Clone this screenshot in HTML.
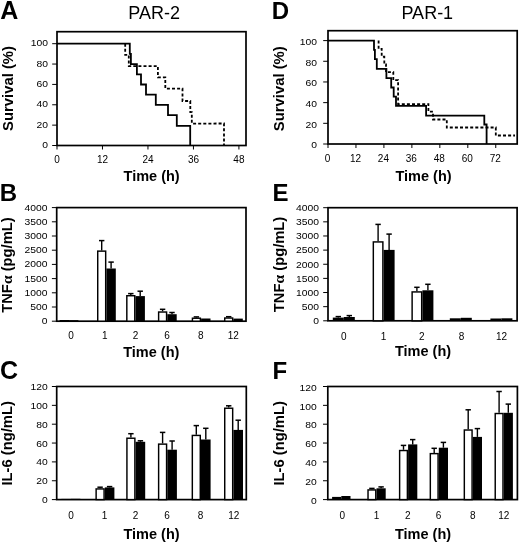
<!DOCTYPE html>
<html><head><meta charset="utf-8"><style>
html,body{margin:0;padding:0;background:#fff;width:520px;height:545px;overflow:hidden}
svg{display:block;will-change:transform}
text{font-family:"Liberation Sans", sans-serif;fill:#000}
</style></head><body>
<svg width="520" height="545" viewBox="0 0 520 545">
<rect width="520" height="545" fill="#fff"/>
<text x="0.3" y="18.7" font-size="25" text-anchor="start" font-weight="bold" >A</text>
<text x="271.8" y="18.8" font-size="24" text-anchor="start" font-weight="bold" >D</text>
<text x="-0.2" y="200.9" font-size="24" text-anchor="start" font-weight="bold" >B</text>
<text x="272.5" y="201.1" font-size="24" text-anchor="start" font-weight="bold" >E</text>
<text x="0.0" y="378.6" font-size="25" text-anchor="start" font-weight="bold" >C</text>
<text x="272.5" y="378.8" font-size="24" text-anchor="start" font-weight="bold" >F</text>
<text x="154.2" y="18.6" font-size="18" text-anchor="middle" font-weight="normal" >PAR-2</text>
<text x="427.3" y="18.6" font-size="18" text-anchor="middle" font-weight="normal" >PAR-1</text>
<rect x="57" y="31.7" width="189" height="113.8" fill="none" stroke="#000" stroke-width="1.7"/>
<line x1="52.2" y1="145.5" x2="57" y2="145.5" stroke="#000" stroke-width="1.0"/>
<text transform="translate(47.9,148.10) scale(1.15,1)" font-size="9.0" text-anchor="end">0</text>
<line x1="52.2" y1="125.14" x2="57" y2="125.14" stroke="#000" stroke-width="1.0"/>
<text transform="translate(47.9,127.74) scale(1.15,1)" font-size="9.0" text-anchor="end">20</text>
<line x1="52.2" y1="104.78" x2="57" y2="104.78" stroke="#000" stroke-width="1.0"/>
<text transform="translate(47.9,107.38) scale(1.15,1)" font-size="9.0" text-anchor="end">40</text>
<line x1="52.2" y1="84.42" x2="57" y2="84.42" stroke="#000" stroke-width="1.0"/>
<text transform="translate(47.9,87.02) scale(1.15,1)" font-size="9.0" text-anchor="end">60</text>
<line x1="52.2" y1="64.06" x2="57" y2="64.06" stroke="#000" stroke-width="1.0"/>
<text transform="translate(47.9,66.66) scale(1.15,1)" font-size="9.0" text-anchor="end">80</text>
<line x1="52.2" y1="43.7" x2="57" y2="43.7" stroke="#000" stroke-width="1.0"/>
<text transform="translate(47.9,46.30) scale(1.15,1)" font-size="9.0" text-anchor="end">100</text>
<line x1="57.0" y1="145.5" x2="57.0" y2="149.5" stroke="#000" stroke-width="1.0"/>
<text x="57.0" y="163.2" font-size="10" text-anchor="middle" font-weight="normal" >0</text>
<line x1="102.48" y1="145.5" x2="102.48" y2="149.5" stroke="#000" stroke-width="1.0"/>
<text x="102.48" y="163.2" font-size="10" text-anchor="middle" font-weight="normal" >12</text>
<line x1="147.96" y1="145.5" x2="147.96" y2="149.5" stroke="#000" stroke-width="1.0"/>
<text x="147.96" y="163.2" font-size="10" text-anchor="middle" font-weight="normal" >24</text>
<line x1="193.44" y1="145.5" x2="193.44" y2="149.5" stroke="#000" stroke-width="1.0"/>
<text x="193.44" y="163.2" font-size="10" text-anchor="middle" font-weight="normal" >36</text>
<line x1="238.92000000000002" y1="145.5" x2="238.92000000000002" y2="149.5" stroke="#000" stroke-width="1.0"/>
<text x="238.92000000000002" y="163.2" font-size="10" text-anchor="middle" font-weight="normal" >48</text>
<polyline points="57,43.7 129.8,43.7 129.8,53.9 130.9,53.9 130.9,64.1 136.9,64.1 136.9,74.3 141,74.3 141,84.5 146,84.5 146,94.6 155.8,94.6 155.8,104.8 168,104.8 168,115 176.8,115.1 176.8,125.9 190.2,125.9 190.2,145.5" fill="none" stroke="#000" stroke-width="1.8" stroke-linejoin="miter" stroke-linecap="butt"/>
<polyline points="125.2,43.7 125.2,54.9 128.8,54.9 128.8,66.2 157.9,66.1 157.9,77.3 165.3,77.3 165.3,88.6 182.5,88.6 182.5,101.0 190.3,101.0 190.3,112.2 191.8,112.2 191.8,123.6 224,123.5 224,145.5" fill="none" stroke="#000" stroke-width="1.8" stroke-dasharray="3 2.1" stroke-linejoin="miter" stroke-linecap="butt"/>
<text transform="translate(13.0,88.5) rotate(-90)" font-size="14.85" text-anchor="middle" font-weight="bold">Survival (%)</text>
<text x="151.6" y="180.8" font-size="14.5" text-anchor="middle" font-weight="bold" >Time (h)</text>
<rect x="328" y="30.7" width="189.20000000000005" height="113.3" fill="none" stroke="#000" stroke-width="1.7"/>
<line x1="323.2" y1="144.0" x2="328" y2="144.0" stroke="#000" stroke-width="1.0"/>
<text transform="translate(317.0,148.25) scale(1.15,1)" font-size="9.0" text-anchor="end">0</text>
<line x1="323.2" y1="123.32" x2="328" y2="123.32" stroke="#000" stroke-width="1.0"/>
<text transform="translate(317.0,127.57) scale(1.15,1)" font-size="9.0" text-anchor="end">20</text>
<line x1="323.2" y1="102.64" x2="328" y2="102.64" stroke="#000" stroke-width="1.0"/>
<text transform="translate(317.0,106.89) scale(1.15,1)" font-size="9.0" text-anchor="end">40</text>
<line x1="323.2" y1="81.96000000000001" x2="328" y2="81.96000000000001" stroke="#000" stroke-width="1.0"/>
<text transform="translate(317.0,86.21) scale(1.15,1)" font-size="9.0" text-anchor="end">60</text>
<line x1="323.2" y1="61.28" x2="328" y2="61.28" stroke="#000" stroke-width="1.0"/>
<text transform="translate(317.0,65.53) scale(1.15,1)" font-size="9.0" text-anchor="end">80</text>
<line x1="323.2" y1="40.599999999999994" x2="328" y2="40.599999999999994" stroke="#000" stroke-width="1.0"/>
<text transform="translate(317.0,44.85) scale(1.15,1)" font-size="9.0" text-anchor="end">100</text>
<line x1="328.0" y1="144" x2="328.0" y2="148" stroke="#000" stroke-width="1.0"/>
<text x="327.5" y="162.3" font-size="10" text-anchor="middle" font-weight="normal" >0</text>
<line x1="355.96" y1="144" x2="355.96" y2="148" stroke="#000" stroke-width="1.0"/>
<text x="355.46" y="162.3" font-size="10" text-anchor="middle" font-weight="normal" >12</text>
<line x1="383.92" y1="144" x2="383.92" y2="148" stroke="#000" stroke-width="1.0"/>
<text x="383.42" y="162.3" font-size="10" text-anchor="middle" font-weight="normal" >24</text>
<line x1="411.88" y1="144" x2="411.88" y2="148" stroke="#000" stroke-width="1.0"/>
<text x="411.38" y="162.3" font-size="10" text-anchor="middle" font-weight="normal" >36</text>
<line x1="439.84000000000003" y1="144" x2="439.84000000000003" y2="148" stroke="#000" stroke-width="1.0"/>
<text x="439.34000000000003" y="162.3" font-size="10" text-anchor="middle" font-weight="normal" >48</text>
<line x1="467.8" y1="144" x2="467.8" y2="148" stroke="#000" stroke-width="1.0"/>
<text x="467.3" y="162.3" font-size="10" text-anchor="middle" font-weight="normal" >60</text>
<line x1="495.76" y1="144" x2="495.76" y2="148" stroke="#000" stroke-width="1.0"/>
<text x="495.26" y="162.3" font-size="10" text-anchor="middle" font-weight="normal" >72</text>
<polyline points="328,40.6 374,40.6 374,49.8 374.9,49.8 374.9,59.1 376.8,59.1 376.8,68.8 386.4,68.8 386.4,78.1 391.2,78.1 391.2,87.5 393.7,87.5 393.7,96.7 396,96.7 396,105.9 426.1,105.9 426.1,115.6 484.3,115.6 484.3,124.5 486.6,124.5 486.6,144" fill="none" stroke="#000" stroke-width="1.8" stroke-linejoin="miter" stroke-linecap="butt"/>
<polyline points="378.6,40.6 378.6,48.8 381.7,48.8 381.7,56.7 384.3,56.7 384.3,64.4 386,64.4 386,72.1 393.3,72.1 393.3,80.1 398.1,80.1 398.1,104.1 428.4,104.1 428.4,111.7 433,111.7 433,119.5 446.8,119.5 446.8,127.5 495.8,127.5 495.8,135.5 515,135.5" fill="none" stroke="#000" stroke-width="1.8" stroke-dasharray="3 2.1" stroke-linejoin="miter" stroke-linecap="butt"/>
<text transform="translate(284.4,88.75) rotate(-90)" font-size="14.85" text-anchor="middle" font-weight="bold">Survival (%)</text>
<text x="423.5" y="181" font-size="14.5" text-anchor="middle" font-weight="bold" >Time (h)</text>
<rect x="56.7" y="207.6" width="189.3" height="113.6" fill="none" stroke="#000" stroke-width="1.7"/>
<line x1="51.900000000000006" y1="321.2" x2="56.7" y2="321.2" stroke="#000" stroke-width="1.0"/>
<text transform="translate(47.6,324.20) scale(1.15,1)" font-size="9.0" text-anchor="end">0</text>
<line x1="51.900000000000006" y1="307.0" x2="56.7" y2="307.0" stroke="#000" stroke-width="1.0"/>
<text transform="translate(47.6,310.00) scale(1.15,1)" font-size="9.0" text-anchor="end">500</text>
<line x1="51.900000000000006" y1="292.8" x2="56.7" y2="292.8" stroke="#000" stroke-width="1.0"/>
<text transform="translate(47.6,295.80) scale(1.15,1)" font-size="9.0" text-anchor="end">1000</text>
<line x1="51.900000000000006" y1="278.59999999999997" x2="56.7" y2="278.59999999999997" stroke="#000" stroke-width="1.0"/>
<text transform="translate(47.6,281.60) scale(1.15,1)" font-size="9.0" text-anchor="end">1500</text>
<line x1="51.900000000000006" y1="264.4" x2="56.7" y2="264.4" stroke="#000" stroke-width="1.0"/>
<text transform="translate(47.6,267.40) scale(1.15,1)" font-size="9.0" text-anchor="end">2000</text>
<line x1="51.900000000000006" y1="250.2" x2="56.7" y2="250.2" stroke="#000" stroke-width="1.0"/>
<text transform="translate(47.6,253.20) scale(1.15,1)" font-size="9.0" text-anchor="end">2500</text>
<line x1="51.900000000000006" y1="236.0" x2="56.7" y2="236.0" stroke="#000" stroke-width="1.0"/>
<text transform="translate(47.6,239.00) scale(1.15,1)" font-size="9.0" text-anchor="end">3000</text>
<line x1="51.900000000000006" y1="221.79999999999998" x2="56.7" y2="221.79999999999998" stroke="#000" stroke-width="1.0"/>
<text transform="translate(47.6,224.80) scale(1.15,1)" font-size="9.0" text-anchor="end">3500</text>
<line x1="51.900000000000006" y1="207.6" x2="56.7" y2="207.6" stroke="#000" stroke-width="1.0"/>
<text transform="translate(47.6,210.60) scale(1.15,1)" font-size="9.0" text-anchor="end">4000</text>
<rect x="59.6" y="320.0" width="9.399999999999999" height="1.1999999999999886" fill="#000"/>
<rect x="69" y="320.2" width="9.400000000000006" height="1.0" fill="#000"/>
<line x1="101.7" y1="240.6" x2="101.7" y2="250.4" stroke="#000" stroke-width="1.4"/>
<line x1="99.0" y1="240.6" x2="104.4" y2="240.6" stroke="#000" stroke-width="1.5"/>
<rect x="97.725" y="251.125" width="7.9500000000000055" height="70.07499999999999" fill="#fff" stroke="#000" stroke-width="1.45"/>
<line x1="111.10000000000001" y1="262.1" x2="111.10000000000001" y2="268.5" stroke="#000" stroke-width="1.4"/>
<line x1="108.4" y1="262.1" x2="113.80000000000001" y2="262.1" stroke="#000" stroke-width="1.5"/>
<rect x="106.4" y="268.5" width="9.400000000000006" height="52.69999999999999" fill="#000"/>
<line x1="130.8" y1="293.6" x2="130.8" y2="295.0" stroke="#000" stroke-width="1.4"/>
<line x1="128.10000000000002" y1="293.6" x2="133.5" y2="293.6" stroke="#000" stroke-width="1.5"/>
<rect x="126.82499999999999" y="295.725" width="7.9500000000000055" height="25.474999999999987" fill="#fff" stroke="#000" stroke-width="1.45"/>
<line x1="140.2" y1="291.2" x2="140.2" y2="296.1" stroke="#000" stroke-width="1.4"/>
<line x1="137.5" y1="291.2" x2="142.89999999999998" y2="291.2" stroke="#000" stroke-width="1.5"/>
<rect x="135.5" y="296.1" width="9.400000000000006" height="25.099999999999966" fill="#000"/>
<line x1="162.60000000000002" y1="309.3" x2="162.60000000000002" y2="311.3" stroke="#000" stroke-width="1.4"/>
<line x1="159.90000000000003" y1="309.3" x2="165.3" y2="309.3" stroke="#000" stroke-width="1.5"/>
<rect x="158.625" y="312.02500000000003" width="7.9500000000000055" height="9.174999999999978" fill="#fff" stroke="#000" stroke-width="1.45"/>
<line x1="172.0" y1="312.5" x2="172.0" y2="314.2" stroke="#000" stroke-width="1.4"/>
<line x1="169.3" y1="312.5" x2="174.7" y2="312.5" stroke="#000" stroke-width="1.5"/>
<rect x="167.3" y="314.2" width="9.400000000000006" height="7.0" fill="#000"/>
<line x1="196.39999999999998" y1="316.9" x2="196.39999999999998" y2="317.5" stroke="#000" stroke-width="1.4"/>
<line x1="193.7" y1="316.9" x2="199.09999999999997" y2="316.9" stroke="#000" stroke-width="1.5"/>
<rect x="192.42499999999998" y="318.225" width="7.9500000000000055" height="2.9749999999999885" fill="#fff" stroke="#000" stroke-width="1.45"/>
<rect x="201.1" y="318.5" width="9.400000000000006" height="2.6999999999999886" fill="#000"/>
<line x1="228.7" y1="316.7" x2="228.7" y2="317.3" stroke="#000" stroke-width="1.4"/>
<line x1="226.0" y1="316.7" x2="231.39999999999998" y2="316.7" stroke="#000" stroke-width="1.5"/>
<rect x="224.725" y="318.02500000000003" width="7.9500000000000055" height="3.174999999999977" fill="#fff" stroke="#000" stroke-width="1.45"/>
<rect x="233.4" y="318.6" width="9.400000000000006" height="2.599999999999966" fill="#000"/>
<text x="71" y="338.6" font-size="10" text-anchor="middle" font-weight="normal" >0</text>
<text x="104.8" y="338.6" font-size="10" text-anchor="middle" font-weight="normal" >1</text>
<text x="135.5" y="338.6" font-size="10" text-anchor="middle" font-weight="normal" >2</text>
<text x="167" y="338.6" font-size="10" text-anchor="middle" font-weight="normal" >6</text>
<text x="200.7" y="338.6" font-size="10" text-anchor="middle" font-weight="normal" >8</text>
<text x="233.2" y="338.6" font-size="10" text-anchor="middle" font-weight="normal" >12</text>
<text transform="translate(11.9,265.1) rotate(-90)" font-size="14.7" text-anchor="middle" font-weight="bold">TNF<tspan font-family="Liberation Serif" font-size="15.5" dx="0.2">α</tspan> (pg/mL)</text>
<text x="151.3" y="357.3" font-size="14.5" text-anchor="middle" font-weight="bold" >Time (h)</text>
<rect x="328" y="207.7" width="189.10000000000002" height="113.10000000000002" fill="none" stroke="#000" stroke-width="1.7"/>
<line x1="323.2" y1="320.8" x2="328" y2="320.8" stroke="#000" stroke-width="1.0"/>
<text transform="translate(319.1,324.15) scale(1.15,1)" font-size="9.0" text-anchor="end">0</text>
<line x1="323.2" y1="306.6625" x2="328" y2="306.6625" stroke="#000" stroke-width="1.0"/>
<text transform="translate(319.1,310.01) scale(1.15,1)" font-size="9.0" text-anchor="end">500</text>
<line x1="323.2" y1="292.525" x2="328" y2="292.525" stroke="#000" stroke-width="1.0"/>
<text transform="translate(319.1,295.88) scale(1.15,1)" font-size="9.0" text-anchor="end">1000</text>
<line x1="323.2" y1="278.3875" x2="328" y2="278.3875" stroke="#000" stroke-width="1.0"/>
<text transform="translate(319.1,281.74) scale(1.15,1)" font-size="9.0" text-anchor="end">1500</text>
<line x1="323.2" y1="264.25" x2="328" y2="264.25" stroke="#000" stroke-width="1.0"/>
<text transform="translate(319.1,267.60) scale(1.15,1)" font-size="9.0" text-anchor="end">2000</text>
<line x1="323.2" y1="250.1125" x2="328" y2="250.1125" stroke="#000" stroke-width="1.0"/>
<text transform="translate(319.1,253.46) scale(1.15,1)" font-size="9.0" text-anchor="end">2500</text>
<line x1="323.2" y1="235.975" x2="328" y2="235.975" stroke="#000" stroke-width="1.0"/>
<text transform="translate(319.1,239.32) scale(1.15,1)" font-size="9.0" text-anchor="end">3000</text>
<line x1="323.2" y1="221.83749999999998" x2="328" y2="221.83749999999998" stroke="#000" stroke-width="1.0"/>
<text transform="translate(319.1,225.19) scale(1.15,1)" font-size="9.0" text-anchor="end">3500</text>
<line x1="323.2" y1="207.7" x2="328" y2="207.7" stroke="#000" stroke-width="1.0"/>
<text transform="translate(319.1,211.05) scale(1.15,1)" font-size="9.0" text-anchor="end">4000</text>
<line x1="338.3" y1="316.6" x2="338.3" y2="317.6" stroke="#000" stroke-width="1.4"/>
<line x1="335.6" y1="316.6" x2="341.0" y2="316.6" stroke="#000" stroke-width="1.5"/>
<rect x="332.8" y="317.6" width="11.0" height="3.1999999999999886" fill="#000"/>
<line x1="349.3" y1="315.6" x2="349.3" y2="317.0" stroke="#000" stroke-width="1.4"/>
<line x1="346.6" y1="315.6" x2="352.0" y2="315.6" stroke="#000" stroke-width="1.5"/>
<rect x="343.8" y="317.0" width="11.0" height="3.8000000000000114" fill="#000"/>
<line x1="378.1" y1="224.4" x2="378.1" y2="241.2" stroke="#000" stroke-width="1.4"/>
<line x1="375.40000000000003" y1="224.4" x2="380.8" y2="224.4" stroke="#000" stroke-width="1.5"/>
<rect x="373.32500000000005" y="241.92499999999998" width="9.55" height="78.87500000000003" fill="#fff" stroke="#000" stroke-width="1.45"/>
<line x1="389.1" y1="234.1" x2="389.1" y2="249.9" stroke="#000" stroke-width="1.4"/>
<line x1="386.40000000000003" y1="234.1" x2="391.8" y2="234.1" stroke="#000" stroke-width="1.5"/>
<rect x="383.6" y="249.9" width="11.0" height="70.9" fill="#000"/>
<line x1="416.9" y1="287.3" x2="416.9" y2="291.2" stroke="#000" stroke-width="1.4"/>
<line x1="414.2" y1="287.3" x2="419.59999999999997" y2="287.3" stroke="#000" stroke-width="1.5"/>
<rect x="412.125" y="291.925" width="9.55" height="28.87500000000002" fill="#fff" stroke="#000" stroke-width="1.45"/>
<line x1="427.9" y1="284.3" x2="427.9" y2="290.3" stroke="#000" stroke-width="1.4"/>
<line x1="425.2" y1="284.3" x2="430.59999999999997" y2="284.3" stroke="#000" stroke-width="1.5"/>
<rect x="422.4" y="290.3" width="11.0" height="30.5" fill="#000"/>
<rect x="449.8" y="318.3" width="11.0" height="2.5" fill="#000"/>
<rect x="460.8" y="317.8" width="11.0" height="3.0" fill="#000"/>
<rect x="490.4" y="318.5" width="11.0" height="2.3000000000000114" fill="#000"/>
<rect x="501.4" y="318.3" width="11.0" height="2.5" fill="#000"/>
<text x="343.8" y="339.8" font-size="10" text-anchor="middle" font-weight="normal" >0</text>
<text x="383.5" y="339.8" font-size="10" text-anchor="middle" font-weight="normal" >1</text>
<text x="421.9" y="339.8" font-size="10" text-anchor="middle" font-weight="normal" >2</text>
<text x="461.5" y="339.8" font-size="10" text-anchor="middle" font-weight="normal" >8</text>
<text x="501.5" y="339.8" font-size="10" text-anchor="middle" font-weight="normal" >12</text>
<text transform="translate(284.1,264.5) rotate(-90)" font-size="14.7" text-anchor="middle" font-weight="bold">TNF<tspan font-family="Liberation Serif" font-size="15.5" dx="0.2">α</tspan> (pg/mL)</text>
<text x="423" y="356.3" font-size="14.5" text-anchor="middle" font-weight="bold" >Time (h)</text>
<rect x="56.7" y="386.5" width="189.60000000000002" height="113.10000000000002" fill="none" stroke="#000" stroke-width="1.7"/>
<line x1="51.900000000000006" y1="499.6" x2="56.7" y2="499.6" stroke="#000" stroke-width="1.0"/>
<text transform="translate(47.7,503.05) scale(1.15,1)" font-size="9.0" text-anchor="end">0</text>
<line x1="51.900000000000006" y1="480.75" x2="56.7" y2="480.75" stroke="#000" stroke-width="1.0"/>
<text transform="translate(47.7,484.20) scale(1.15,1)" font-size="9.0" text-anchor="end">20</text>
<line x1="51.900000000000006" y1="461.90000000000003" x2="56.7" y2="461.90000000000003" stroke="#000" stroke-width="1.0"/>
<text transform="translate(47.7,465.35) scale(1.15,1)" font-size="9.0" text-anchor="end">40</text>
<line x1="51.900000000000006" y1="443.05" x2="56.7" y2="443.05" stroke="#000" stroke-width="1.0"/>
<text transform="translate(47.7,446.50) scale(1.15,1)" font-size="9.0" text-anchor="end">60</text>
<line x1="51.900000000000006" y1="424.2" x2="56.7" y2="424.2" stroke="#000" stroke-width="1.0"/>
<text transform="translate(47.7,427.65) scale(1.15,1)" font-size="9.0" text-anchor="end">80</text>
<line x1="51.900000000000006" y1="405.35" x2="56.7" y2="405.35" stroke="#000" stroke-width="1.0"/>
<text transform="translate(47.7,408.80) scale(1.15,1)" font-size="9.0" text-anchor="end">100</text>
<line x1="51.900000000000006" y1="386.5" x2="56.7" y2="386.5" stroke="#000" stroke-width="1.0"/>
<text transform="translate(47.7,389.95) scale(1.15,1)" font-size="9.0" text-anchor="end">120</text>
<rect x="61.4" y="498.9" width="9.399999999999999" height="0.7000000000000455" fill="#000"/>
<rect x="70.8" y="498.8" width="9.599999999999994" height="0.8000000000000114" fill="#000"/>
<line x1="100.1" y1="487.2" x2="100.1" y2="488.2" stroke="#000" stroke-width="1.4"/>
<line x1="97.39999999999999" y1="487.2" x2="102.8" y2="487.2" stroke="#000" stroke-width="1.5"/>
<rect x="96.12499999999999" y="488.925" width="7.9500000000000055" height="10.675000000000034" fill="#fff" stroke="#000" stroke-width="1.45"/>
<line x1="109.6" y1="486.6" x2="109.6" y2="487.4" stroke="#000" stroke-width="1.4"/>
<line x1="106.89999999999999" y1="486.6" x2="112.3" y2="486.6" stroke="#000" stroke-width="1.5"/>
<rect x="104.8" y="487.4" width="9.599999999999994" height="12.200000000000045" fill="#000"/>
<line x1="130.89999999999998" y1="433.7" x2="130.89999999999998" y2="437.5" stroke="#000" stroke-width="1.4"/>
<line x1="128.2" y1="433.7" x2="133.59999999999997" y2="433.7" stroke="#000" stroke-width="1.5"/>
<rect x="126.92499999999998" y="438.225" width="7.9500000000000055" height="61.37500000000002" fill="#fff" stroke="#000" stroke-width="1.45"/>
<line x1="140.39999999999998" y1="440.8" x2="140.39999999999998" y2="441.8" stroke="#000" stroke-width="1.4"/>
<line x1="137.7" y1="440.8" x2="143.09999999999997" y2="440.8" stroke="#000" stroke-width="1.5"/>
<rect x="135.6" y="441.8" width="9.599999999999994" height="57.80000000000001" fill="#000"/>
<line x1="162.60000000000002" y1="432.4" x2="162.60000000000002" y2="443.4" stroke="#000" stroke-width="1.4"/>
<line x1="159.90000000000003" y1="432.4" x2="165.3" y2="432.4" stroke="#000" stroke-width="1.5"/>
<rect x="158.625" y="444.125" width="7.9500000000000055" height="55.475000000000044" fill="#fff" stroke="#000" stroke-width="1.45"/>
<line x1="172.10000000000002" y1="441.0" x2="172.10000000000002" y2="449.7" stroke="#000" stroke-width="1.4"/>
<line x1="169.40000000000003" y1="441.0" x2="174.8" y2="441.0" stroke="#000" stroke-width="1.5"/>
<rect x="167.3" y="449.7" width="9.599999999999994" height="49.900000000000034" fill="#000"/>
<line x1="196.3" y1="425.6" x2="196.3" y2="434.7" stroke="#000" stroke-width="1.4"/>
<line x1="193.60000000000002" y1="425.6" x2="199.0" y2="425.6" stroke="#000" stroke-width="1.5"/>
<rect x="192.325" y="435.425" width="7.9500000000000055" height="64.17500000000004" fill="#fff" stroke="#000" stroke-width="1.45"/>
<line x1="205.8" y1="428.3" x2="205.8" y2="439.5" stroke="#000" stroke-width="1.4"/>
<line x1="203.10000000000002" y1="428.3" x2="208.5" y2="428.3" stroke="#000" stroke-width="1.5"/>
<rect x="201.0" y="439.5" width="9.599999999999994" height="60.10000000000002" fill="#000"/>
<line x1="228.7" y1="405.8" x2="228.7" y2="407.5" stroke="#000" stroke-width="1.4"/>
<line x1="226.0" y1="405.8" x2="231.39999999999998" y2="405.8" stroke="#000" stroke-width="1.5"/>
<rect x="224.725" y="408.225" width="7.9500000000000055" height="91.37500000000003" fill="#fff" stroke="#000" stroke-width="1.45"/>
<line x1="238.2" y1="420.2" x2="238.2" y2="429.9" stroke="#000" stroke-width="1.4"/>
<line x1="235.5" y1="420.2" x2="240.89999999999998" y2="420.2" stroke="#000" stroke-width="1.5"/>
<rect x="233.4" y="429.9" width="9.599999999999994" height="69.70000000000005" fill="#000"/>
<text x="71" y="518.9" font-size="10" text-anchor="middle" font-weight="normal" >0</text>
<text x="104.5" y="518.9" font-size="10" text-anchor="middle" font-weight="normal" >1</text>
<text x="135.6" y="518.9" font-size="10" text-anchor="middle" font-weight="normal" >2</text>
<text x="167.1" y="518.9" font-size="10" text-anchor="middle" font-weight="normal" >6</text>
<text x="200.6" y="518.9" font-size="10" text-anchor="middle" font-weight="normal" >8</text>
<text x="233.8" y="518.9" font-size="10" text-anchor="middle" font-weight="normal" >12</text>
<text transform="translate(11.9,443.35) rotate(-90)" font-size="14.75" text-anchor="middle" font-weight="bold">IL-6 (ng/mL)</text>
<text x="151.5" y="539.0" font-size="14.5" text-anchor="middle" font-weight="bold" >Time (h)</text>
<rect x="327.8" y="386.5" width="189.59999999999997" height="113.10000000000002" fill="none" stroke="#000" stroke-width="1.7"/>
<line x1="323.0" y1="499.6" x2="327.8" y2="499.6" stroke="#000" stroke-width="1.0"/>
<text transform="translate(316.8,503.80) scale(1.15,1)" font-size="9.0" text-anchor="end">0</text>
<line x1="323.0" y1="480.75" x2="327.8" y2="480.75" stroke="#000" stroke-width="1.0"/>
<text transform="translate(316.8,484.95) scale(1.15,1)" font-size="9.0" text-anchor="end">20</text>
<line x1="323.0" y1="461.90000000000003" x2="327.8" y2="461.90000000000003" stroke="#000" stroke-width="1.0"/>
<text transform="translate(316.8,466.10) scale(1.15,1)" font-size="9.0" text-anchor="end">40</text>
<line x1="323.0" y1="443.05" x2="327.8" y2="443.05" stroke="#000" stroke-width="1.0"/>
<text transform="translate(316.8,447.25) scale(1.15,1)" font-size="9.0" text-anchor="end">60</text>
<line x1="323.0" y1="424.2" x2="327.8" y2="424.2" stroke="#000" stroke-width="1.0"/>
<text transform="translate(316.8,428.40) scale(1.15,1)" font-size="9.0" text-anchor="end">80</text>
<line x1="323.0" y1="405.35" x2="327.8" y2="405.35" stroke="#000" stroke-width="1.0"/>
<text transform="translate(316.8,409.55) scale(1.15,1)" font-size="9.0" text-anchor="end">100</text>
<line x1="323.0" y1="386.5" x2="327.8" y2="386.5" stroke="#000" stroke-width="1.0"/>
<text transform="translate(316.8,390.70) scale(1.15,1)" font-size="9.0" text-anchor="end">120</text>
<rect x="332.1" y="496.9" width="9.199999999999989" height="2.7000000000000455" fill="#000"/>
<rect x="341.3" y="496.0" width="9.199999999999989" height="3.6000000000000227" fill="#000"/>
<line x1="371.9" y1="488.4" x2="371.9" y2="489.2" stroke="#000" stroke-width="1.4"/>
<line x1="369.2" y1="488.4" x2="374.59999999999997" y2="488.4" stroke="#000" stroke-width="1.5"/>
<rect x="368.02500000000003" y="489.925" width="7.7499999999999885" height="9.675000000000034" fill="#fff" stroke="#000" stroke-width="1.45"/>
<line x1="381.1" y1="486.9" x2="381.1" y2="488.3" stroke="#000" stroke-width="1.4"/>
<line x1="378.40000000000003" y1="486.9" x2="383.8" y2="486.9" stroke="#000" stroke-width="1.5"/>
<rect x="376.5" y="488.3" width="9.199999999999989" height="11.300000000000011" fill="#000"/>
<line x1="403.5" y1="445.4" x2="403.5" y2="449.8" stroke="#000" stroke-width="1.4"/>
<line x1="400.8" y1="445.4" x2="406.2" y2="445.4" stroke="#000" stroke-width="1.5"/>
<rect x="399.62500000000006" y="450.52500000000003" width="7.7499999999999885" height="49.07500000000001" fill="#fff" stroke="#000" stroke-width="1.45"/>
<line x1="412.70000000000005" y1="439.6" x2="412.70000000000005" y2="444.4" stroke="#000" stroke-width="1.4"/>
<line x1="410.00000000000006" y1="439.6" x2="415.40000000000003" y2="439.6" stroke="#000" stroke-width="1.5"/>
<rect x="408.1" y="444.4" width="9.199999999999989" height="55.200000000000045" fill="#000"/>
<line x1="434.20000000000005" y1="448.3" x2="434.20000000000005" y2="452.9" stroke="#000" stroke-width="1.4"/>
<line x1="431.50000000000006" y1="448.3" x2="436.90000000000003" y2="448.3" stroke="#000" stroke-width="1.5"/>
<rect x="430.32500000000005" y="453.625" width="7.7499999999999885" height="45.975000000000044" fill="#fff" stroke="#000" stroke-width="1.45"/>
<line x1="443.4" y1="442.4" x2="443.4" y2="447.7" stroke="#000" stroke-width="1.4"/>
<line x1="440.7" y1="442.4" x2="446.09999999999997" y2="442.4" stroke="#000" stroke-width="1.5"/>
<rect x="438.8" y="447.7" width="9.199999999999989" height="51.900000000000034" fill="#000"/>
<line x1="468.20000000000005" y1="409.8" x2="468.20000000000005" y2="429.3" stroke="#000" stroke-width="1.4"/>
<line x1="465.50000000000006" y1="409.8" x2="470.90000000000003" y2="409.8" stroke="#000" stroke-width="1.5"/>
<rect x="464.32500000000005" y="430.02500000000003" width="7.7499999999999885" height="69.57500000000002" fill="#fff" stroke="#000" stroke-width="1.45"/>
<line x1="477.4" y1="428.6" x2="477.4" y2="436.9" stroke="#000" stroke-width="1.4"/>
<line x1="474.7" y1="428.6" x2="480.09999999999997" y2="428.6" stroke="#000" stroke-width="1.5"/>
<rect x="472.8" y="436.9" width="9.199999999999989" height="62.700000000000045" fill="#000"/>
<line x1="499.1" y1="391.5" x2="499.1" y2="412.8" stroke="#000" stroke-width="1.4"/>
<line x1="496.40000000000003" y1="391.5" x2="501.8" y2="391.5" stroke="#000" stroke-width="1.5"/>
<rect x="495.225" y="413.52500000000003" width="7.7499999999999885" height="86.07500000000002" fill="#fff" stroke="#000" stroke-width="1.45"/>
<line x1="508.29999999999995" y1="404.1" x2="508.29999999999995" y2="412.8" stroke="#000" stroke-width="1.4"/>
<line x1="505.59999999999997" y1="404.1" x2="510.99999999999994" y2="404.1" stroke="#000" stroke-width="1.5"/>
<rect x="503.7" y="412.8" width="9.199999999999989" height="86.80000000000001" fill="#000"/>
<text x="342.3" y="519.0" font-size="10" text-anchor="middle" font-weight="normal" >0</text>
<text x="376.5" y="519.0" font-size="10" text-anchor="middle" font-weight="normal" >1</text>
<text x="407.7" y="519.0" font-size="10" text-anchor="middle" font-weight="normal" >2</text>
<text x="438.5" y="519.0" font-size="10" text-anchor="middle" font-weight="normal" >6</text>
<text x="472.7" y="519.0" font-size="10" text-anchor="middle" font-weight="normal" >8</text>
<text x="503.8" y="519.0" font-size="10" text-anchor="middle" font-weight="normal" >12</text>
<text transform="translate(283.9,443.4) rotate(-90)" font-size="14.75" text-anchor="middle" font-weight="bold">IL-6 (ng/mL)</text>
<text x="423" y="539.0" font-size="14.5" text-anchor="middle" font-weight="bold" >Time (h)</text>
</svg>
</body></html>
